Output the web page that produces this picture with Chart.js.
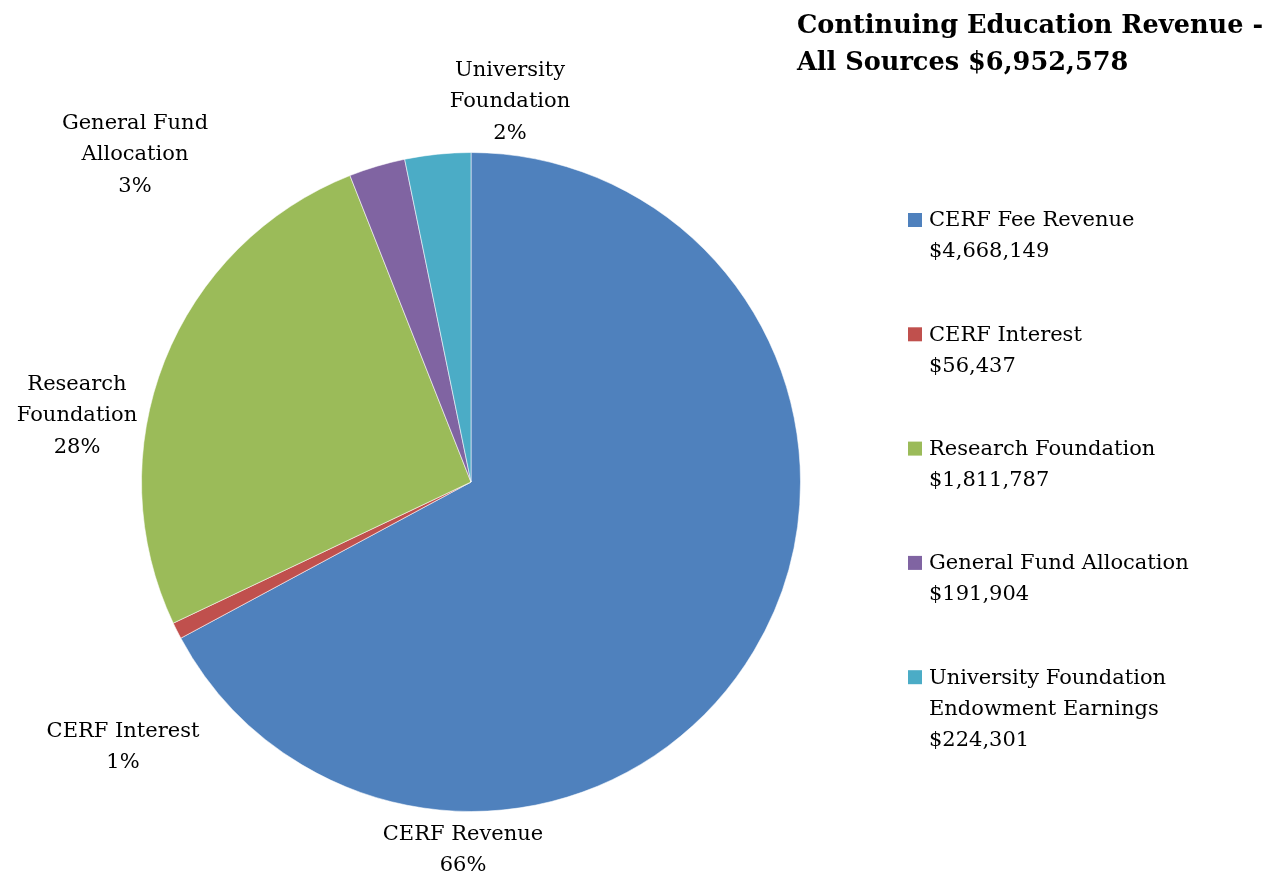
<!DOCTYPE html>
<html>
<head>
<meta charset="utf-8">
<title>Continuing Education Revenue</title>
<script src="https://cdn.jsdelivr.net/npm/chart.js@4.4.1/dist/chart.umd.min.js"></script>
<style>
html,body{margin:0;padding:0;background:#fff;}
#wrap{width:1274px;height:879px;}
</style>
</head>
<body>
<div id="wrap"><canvas id="chart" width="1274" height="879"></canvas></div>
<script>
// revenue sources and dollar amounts (legend)
var sources=[["CERF Fee Revenue"],["CERF Interest"],["Research Foundation"],["General Fund Allocation"],["University Foundation","Endowment Earnings"]];
var amounts=[4668149,56437,1811787,191904,224301];
var colors=["#4F81BD","#C0504D","#9BBB59","#8064A2","#4BACC6"];
// labels printed beside the slices
var sliceNames=[["CERF Revenue"],["CERF Interest"],["Research","Foundation"],["General Fund","Allocation"],["University","Foundation"]];
var slicePercents=["66%","1%","28%","3%","2%"];
var titleLines=["Continuing Education Revenue -","All Sources $6,952,578"];

var FONT="'DejaVu Serif', 'Liberation Serif', serif";

// where each slice label block sits, relative to the pie centre
var labelOffsets=[[-8,368],[-348,265],[-394,-66],[-336,-327],[39,-380]];

function money(v){
	return "$"+v.toLocaleString("en-US");
}

var labelPlugin={
	id:"revenueLabels",
	afterDraw:function(chart){
		var ctx=chart.ctx;
		var meta=chart.getDatasetMeta(0);
		var cx=meta.data[0].x, cy=meta.data[0].y;
		var lh=31.5;
		ctx.save();
		ctx.fillStyle="#000";
		ctx.textBaseline="middle";

		// title, top right
		ctx.textAlign="left";
		ctx.font="bold 25.6px "+FONT;
		for(var i=0;i<titleLines.length;i++){
			ctx.fillText(titleLines[i],797,26+i*37);
		}

		// slice labels
		ctx.textAlign="center";
		ctx.font="21px "+FONT;
		for(var i=0;i<sliceNames.length;i++){
			var lines=sliceNames[i].concat([slicePercents[i]]);
			var x=cx+labelOffsets[i][0];
			var y0=cy+labelOffsets[i][1]-(lines.length-1)*lh/2;
			for(var j=0;j<lines.length;j++){
				ctx.fillText(lines[j],x,y0+j*lh);
			}
		}

		// legend
		ctx.textAlign="left";
		var colorsUsed=chart.data.datasets[0].backgroundColor;
		for(var i=0;i<sources.length;i++){
			var top=220+i*114.3;
			ctx.fillStyle=colorsUsed[i];
			ctx.fillRect(908,top-7,14,14);
			ctx.fillStyle="#000";
			var lines=sources[i].concat([money(chart.data.datasets[0].data[i])]);
			for(var j=0;j<lines.length;j++){
				ctx.fillText(lines[j],929,top+1+j*31);
			}
		}
		ctx.restore();
	}
};

new Chart("chart",{
	type:"pie",
	data:{
		labels:sources.map(function(s){return s.join(" ");}),
		datasets:[{
			data:amounts,
			backgroundColor:colors,
			borderColor:"rgba(255,255,255,0.55)",
			borderWidth:1
		}]
	},
	options:{
		responsive:false,
		animation:false,
		layout:{padding:{left:141,right:473,top:152,bottom:67}},
		plugins:{
			legend:{display:false},
			tooltip:{enabled:false},
			title:{display:false}
		}
	},
	plugins:[labelPlugin]
});
</script>
</body>
</html>
